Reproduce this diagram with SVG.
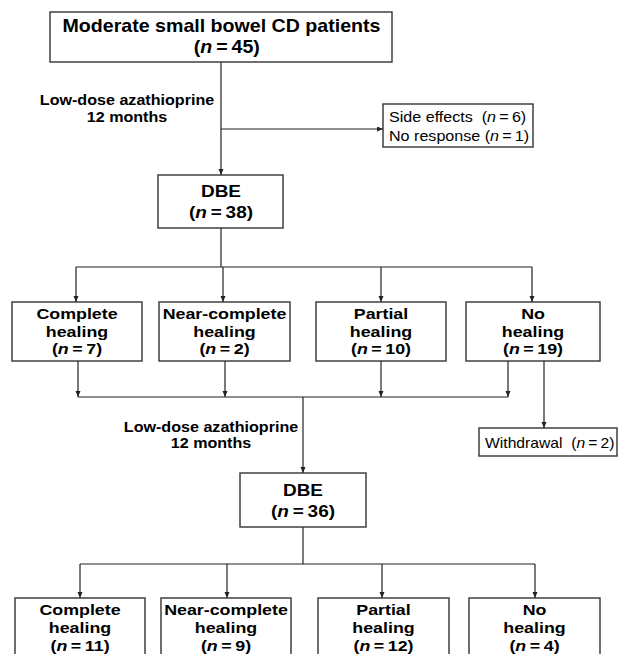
<svg xmlns="http://www.w3.org/2000/svg" width="618" height="654" viewBox="0 0 618 654">
<style>
.box{fill:#fff;stroke:#333;stroke-width:1.4}
.ln{fill:none;stroke:#222;stroke-width:1.2}
.t{font-family:"Liberation Sans",Arial,sans-serif;font-weight:bold;fill:#000;text-anchor:middle}
.r{font-family:"Liberation Sans",Arial,sans-serif;font-weight:normal;fill:#000}
.i{font-style:italic}
.row{font-size:15.5px}
.dbe{font-size:16.5px}
.lbl{font-size:14px}
</style>
<defs>
<marker id="ah" markerUnits="userSpaceOnUse" markerWidth="8" markerHeight="8" refX="6" refY="2.5" orient="auto">
<path d="M0,0 L6,2.5 L0,5 Z" fill="#222"/>
</marker>
</defs>
<rect width="618" height="654" fill="#fff"/>
<g id="connectors">
<line class="ln" x1="221" y1="62" x2="221" y2="175" marker-end="url(#ah)"/>
<line class="ln" x1="221" y1="129" x2="383" y2="129" marker-end="url(#ah)"/>
<line class="ln" x1="221" y1="228" x2="221" y2="267"/>
<line class="ln" x1="76" y1="267" x2="532" y2="267"/>
<line class="ln" x1="76" y1="267" x2="76" y2="302" marker-end="url(#ah)"/>
<line class="ln" x1="223" y1="267" x2="223" y2="302" marker-end="url(#ah)"/>
<line class="ln" x1="381" y1="267" x2="381" y2="302" marker-end="url(#ah)"/>
<line class="ln" x1="532" y1="267" x2="532" y2="302" marker-end="url(#ah)"/>
<line class="ln" x1="78" y1="361" x2="78" y2="397" marker-end="url(#ah)"/>
<line class="ln" x1="225" y1="361" x2="225" y2="397" marker-end="url(#ah)"/>
<line class="ln" x1="381" y1="361" x2="381" y2="397" marker-end="url(#ah)"/>
<line class="ln" x1="508" y1="361" x2="508" y2="397" marker-end="url(#ah)"/>
<line class="ln" x1="78" y1="397" x2="508" y2="397"/>
<line class="ln" x1="544" y1="361" x2="544" y2="428" marker-end="url(#ah)"/>
<line class="ln" x1="303" y1="397" x2="303" y2="473" marker-end="url(#ah)"/>
<line class="ln" x1="303" y1="527" x2="303" y2="564"/>
<line class="ln" x1="80" y1="564" x2="535" y2="564"/>
<line class="ln" x1="80" y1="564" x2="80" y2="598" marker-end="url(#ah)"/>
<line class="ln" x1="227" y1="564" x2="227" y2="598" marker-end="url(#ah)"/>
<line class="ln" x1="382" y1="564" x2="382" y2="598" marker-end="url(#ah)"/>
<line class="ln" x1="535" y1="564" x2="535" y2="598" marker-end="url(#ah)"/>
</g>
<g id="label1" transform="translate(127 0) scale(1.15 1)">
<text class="t lbl" x="0" y="105">Low-dose azathioprine</text>
<text class="t lbl" x="0" y="122">12 months</text>
</g>
<g id="label2" transform="translate(211 0) scale(1.15 1)">
<text class="t lbl" x="0" y="432">Low-dose azathioprine</text>
<text class="t lbl" x="0" y="448">12 months</text>
</g>
<g id="n_start">
<rect class="box" x="50" y="12" width="342" height="50"/>
<g transform="translate(221.5 0) scale(1.06 1)">
<text class="t" x="0" y="32" font-size="18.5">Moderate small bowel CD patients</text>
<text class="t" x="5" y="53" font-size="18.5">(<tspan class="i">n</tspan>&#8201;=&#8201;45)</text>
</g>
</g>
<g id="n_excl">
<rect class="box" x="383" y="104" width="150" height="43"/>
<g transform="translate(389 0) scale(1.15 1)">
<text class="r" x="0" y="122" font-size="14">Side effects &#160;(<tspan class="i">n</tspan>&#8201;=&#8201;6)</text>
<text class="r" x="0" y="141" font-size="14">No response (<tspan class="i">n</tspan>&#8201;=&#8201;1)</text>
</g>
</g>
<g id="n_dbe1">
<rect class="box" x="158" y="175" width="125" height="53"/>
<g transform="translate(221 0) scale(1.15 1)">
<text class="t dbe" x="0" y="197">DBE</text>
<text class="t dbe" x="0" y="218">(<tspan class="i">n</tspan>&#8201;=&#8201;38)</text>
</g>
</g>
<g id="n_r1a">
<rect class="box" x="12" y="302" width="130" height="59"/>
<g transform="translate(77 0) scale(1.15 1)">
<text class="t row" x="0" y="319">Complete</text>
<text class="t row" x="0" y="337">healing</text>
<text class="t row" x="0" y="354">(<tspan class="i">n</tspan>&#8201;=&#8201;7)</text>
</g>
</g>
<g id="n_r1b">
<rect class="box" x="159" y="302" width="131" height="59"/>
<g transform="translate(224.5 0) scale(1.15 1)">
<text class="t row" x="0" y="319">Near-complete</text>
<text class="t row" x="0" y="337">healing</text>
<text class="t row" x="0" y="354">(<tspan class="i">n</tspan>&#8201;=&#8201;2)</text>
</g>
</g>
<g id="n_r1c">
<rect class="box" x="316" y="302" width="130" height="59"/>
<g transform="translate(381 0) scale(1.15 1)">
<text class="t row" x="0" y="319">Partial</text>
<text class="t row" x="0" y="337">healing</text>
<text class="t row" x="0" y="354">(<tspan class="i">n</tspan>&#8201;=&#8201;10)</text>
</g>
</g>
<g id="n_r1d">
<rect class="box" x="466" y="302" width="134" height="59"/>
<g transform="translate(533 0) scale(1.15 1)">
<text class="t row" x="0" y="319">No</text>
<text class="t row" x="0" y="337">healing</text>
<text class="t row" x="0" y="354">(<tspan class="i">n</tspan>&#8201;=&#8201;19)</text>
</g>
</g>
<g id="n_withdraw">
<rect class="box" x="479" y="428" width="138" height="28"/>
<g transform="translate(485 0) scale(1.12 1)">
<text class="r" x="0" y="448" font-size="14">Withdrawal &#160;(<tspan class="i">n</tspan>&#8201;=&#8201;2)</text>
</g>
</g>
<g id="n_dbe2">
<rect class="box" x="240" y="473" width="126" height="54"/>
<g transform="translate(303 0) scale(1.15 1)">
<text class="t dbe" x="0" y="496">DBE</text>
<text class="t dbe" x="0" y="517">(<tspan class="i">n</tspan>&#8201;=&#8201;36)</text>
</g>
</g>
<g id="n_r2a">
<rect class="box" x="15" y="598" width="130" height="62"/>
<g transform="translate(80 0) scale(1.15 1)">
<text class="t row" x="0" y="615">Complete</text>
<text class="t row" x="0" y="633">healing</text>
<text class="t row" x="0" y="651">(<tspan class="i">n</tspan>&#8201;=&#8201;11)</text>
</g>
</g>
<g id="n_r2b">
<rect class="box" x="161" y="598" width="130" height="62"/>
<g transform="translate(226 0) scale(1.15 1)">
<text class="t row" x="0" y="615">Near-complete</text>
<text class="t row" x="0" y="633">healing</text>
<text class="t row" x="0" y="651">(<tspan class="i">n</tspan>&#8201;=&#8201;9)</text>
</g>
</g>
<g id="n_r2c">
<rect class="box" x="318" y="598" width="131" height="62"/>
<g transform="translate(383.5 0) scale(1.15 1)">
<text class="t row" x="0" y="615">Partial</text>
<text class="t row" x="0" y="633">healing</text>
<text class="t row" x="0" y="651">(<tspan class="i">n</tspan>&#8201;=&#8201;12)</text>
</g>
</g>
<g id="n_r2d">
<rect class="box" x="469" y="598" width="131" height="62"/>
<g transform="translate(534.5 0) scale(1.15 1)">
<text class="t row" x="0" y="615">No</text>
<text class="t row" x="0" y="633">healing</text>
<text class="t row" x="0" y="651">(<tspan class="i">n</tspan>&#8201;=&#8201;4)</text>
</g>
</g>
</svg>
